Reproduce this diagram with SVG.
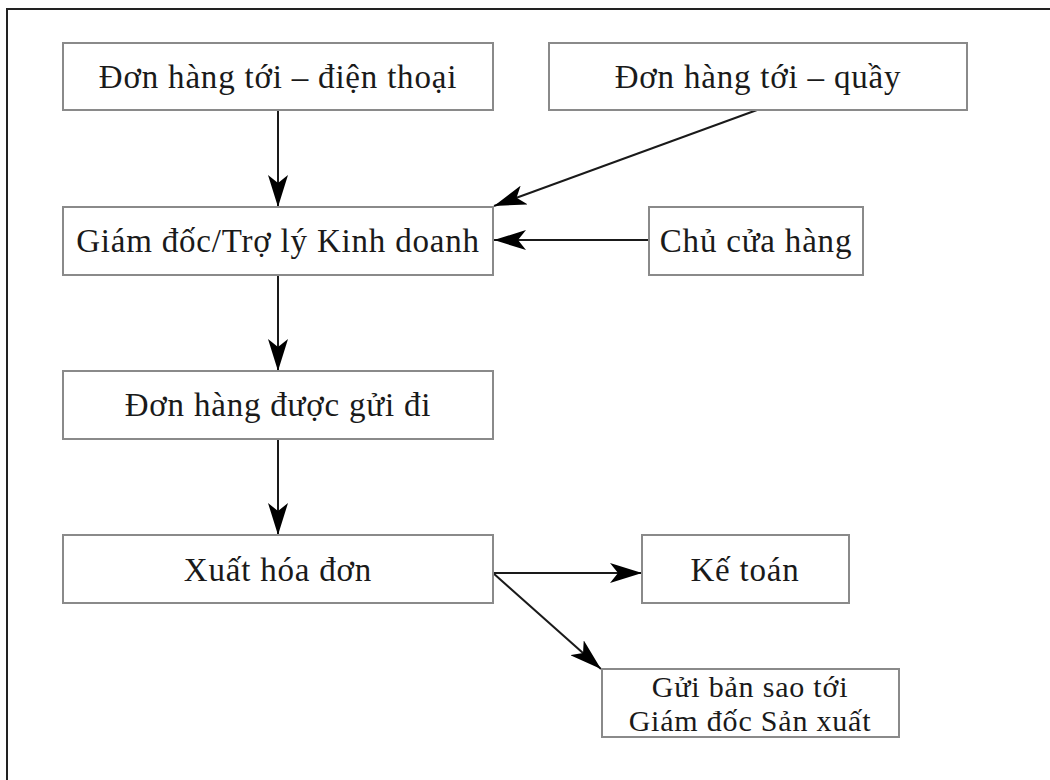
<svg xmlns="http://www.w3.org/2000/svg" width="1050" height="780" viewBox="0 0 1050 780">
<style>
.box{fill:#fff;stroke:#8a8a8a;stroke-width:2}
.t{font-family:"Liberation Serif","DejaVu Serif",serif;font-size:33px;letter-spacing:0.8px;fill:#1a1a1a;text-anchor:middle}
.s{font-size:30px}
.c{stroke:#1a1a1a;stroke-width:2;fill:none;marker-end:url(#ah)}
</style>
<defs>
<marker id="ah" markerUnits="userSpaceOnUse" markerWidth="32" markerHeight="20" refX="32" refY="10" orient="auto">
<path d="M0,0 L32,10 L0,20 L8,10 z" fill="#000"/>
</marker>
</defs>
<rect x="0" y="0" width="1050" height="780" fill="#fff"/>
<rect x="7" y="9" width="1060" height="790" fill="none" stroke="#222" stroke-width="2"/>
<g id="connectors">
<line class="c" x1="278" y1="110" x2="278" y2="207"/>
<line class="c" x1="757" y1="110" x2="494" y2="206"/>
<line class="c" x1="649" y1="240" x2="494" y2="240"/>
<line class="c" x1="278" y1="275" x2="278" y2="371"/>
<line class="c" x1="278" y1="439" x2="278" y2="535"/>
<line class="c" x1="493" y1="573" x2="642" y2="573"/>
<line class="c" x1="493" y1="573" x2="601" y2="669"/>
</g>
<g id="n1"><rect class="box" x="63" y="43" width="430" height="67"/><text class="t" x="278" y="88">Đơn hàng tới – điện thoại</text></g>
<g id="n2"><rect class="box" x="549" y="43" width="418" height="67"/><text class="t" x="758" y="88">Đơn hàng tới – quầy</text></g>
<g id="n3"><rect class="box" x="63" y="207" width="430" height="68"/><text class="t" x="278" y="252">Giám đốc/Trợ lý Kinh doanh</text></g>
<g id="n4"><rect class="box" x="649" y="207" width="214" height="68"/><text class="t" x="756" y="252">Chủ cửa hàng</text></g>
<g id="n5"><rect class="box" x="63" y="371" width="430" height="68"/><text class="t" x="278" y="416">Đơn hàng được gửi đi</text></g>
<g id="n6"><rect class="box" x="63" y="535" width="430" height="68"/><text class="t" x="278" y="581">Xuất hóa đơn</text></g>
<g id="n7"><rect class="box" x="642" y="535" width="207" height="68"/><text class="t" x="745" y="581">Kế toán</text></g>
<g id="n8"><rect class="box" x="602" y="669" width="297" height="68"/><text class="t s" x="750" y="697">Gửi bản sao tới</text><text class="t s" x="750" y="731">Giám đốc Sản xuất</text></g>
</svg>
